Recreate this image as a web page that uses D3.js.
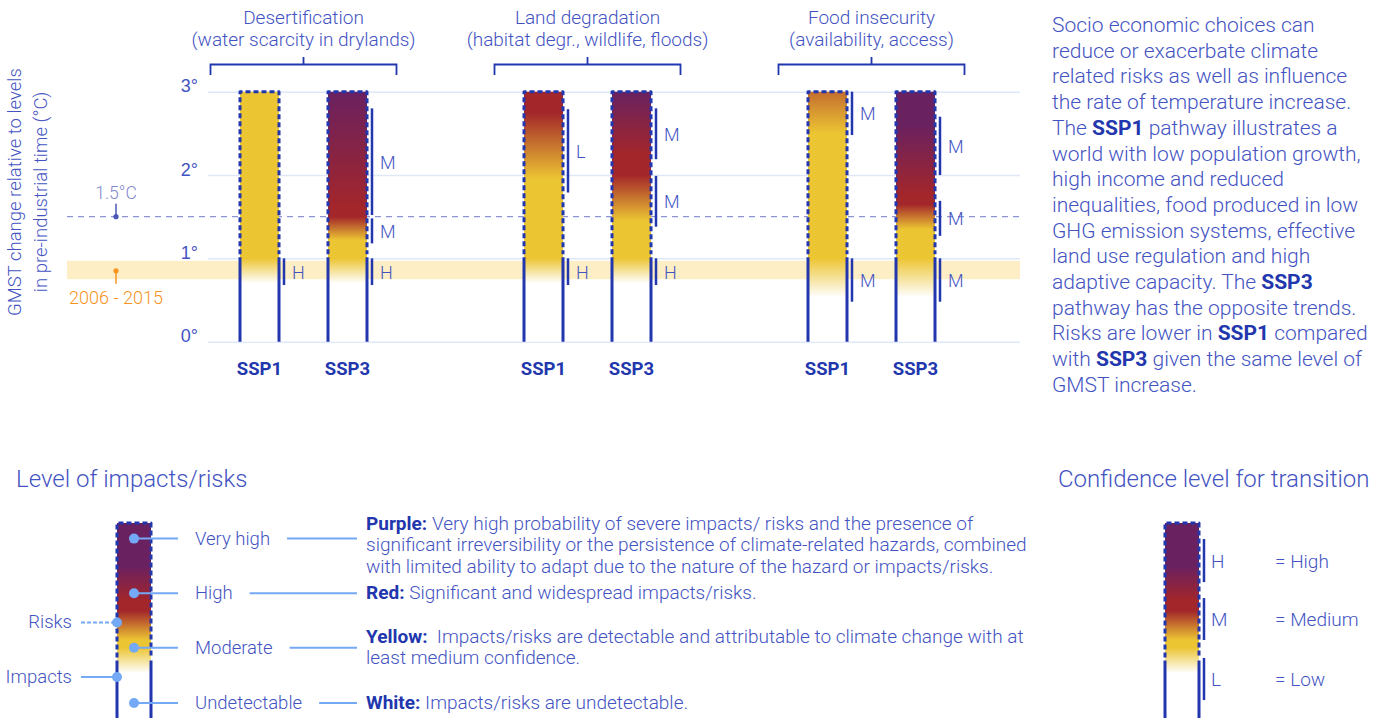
<!DOCTYPE html>
<html>
<head>
<meta charset="utf-8">
<script src="https://cdn.jsdelivr.net/npm/d3@7"></script>
<style>
  body { margin: 0; background: #fff; }
  svg { font-family: Roboto, "Noto Sans", sans-serif; }
  .light { font-weight: 300; }
</style>
</head>
<body>
<div id="container"></div>
<script>
/* CONSTANTS AND GLOBALS */
const width = 1389, height = 718;

const groups = ["Desertification", "Land degradation", "Food insecurity"];
const groupSubtitles = ["(water scarcity in drylands)", "(habitat degr., wildlife, floods)", "(availability, access)"];
const pathways = ["SSP1", "SSP3"];
const yTicks = [0, 1, 2, 3];
const riskLevels = ["Undetectable", "Moderate", "High", "Very high"];

// risk transitions along each bar: [GMST °C, risk level index]
const desertSSP1 = [[3, 1], [1, 1], [0.7, 0]];
const desertSSP3 = [[3, 3], [1.6, 2], [1.5, 2], [1.22, 1], [1, 1], [0.7, 0]];
const landSSP1 = [[3, 2], [2.75, 2], [1.95, 1], [1, 1], [0.7, 0]];
const landSSP3 = [[3, 3], [2.25, 2], [2.0, 2], [1.45, 1], [1, 1], [0.7, 0]];
const foodSSP1 = [[3, 1.55], [2.5, 1], [1, 1], [0.53, 0]];
const foodSSP3 = [[3, 3], [2.6, 3], [1.75, 2], [1.65, 2], [1.35, 1], [1, 1], [0.53, 0]];

// confidence brackets: [from °C, to °C, level]
const desertSSP1Conf = [[1.0, 0.68, "H"]];
const desertSSP3Conf = [[2.8, 1.52, "M"], [1.48, 1.18, "M"], [1.0, 0.68, "H"]];
const landSSP1Conf = [[2.79, 1.79, "L"], [1.0, 0.68, "H"]];
const landSSP3Conf = [[2.8, 2.19, "M"], [1.99, 1.38, "M"], [1.0, 0.68, "H"]];
const foodSSP1Conf = [[3.0, 2.48, "M"], [1.0, 0.48, "M"]];
const foodSSP3Conf = [[2.7, 2.0, "M"], [1.69, 1.27, "M"], [1.0, 0.48, "M"]];

const barTop = 3, barBottom = 0, risksFrom = 1.05;
const warming15 = 1.5;
const observedBand = [0.75, 0.97];

// legend bar: position as fraction of bar (0 = bottom, 1 = top)
const legendStops = [[1, 3], [0.78, 3], [0.6, 2], [0.55, 2], [0.4, 1], [0.36, 1], [0.23, 0]];
const legendDots = [["Very high", 0.92], ["High", 0.64], ["Moderate", 0.36], ["Undetectable", 0.077]];
const legendRisksAt = 0.49, legendImpactsAt = 0.21, legendDashFrom = 0.31;
const legendDescriptions = [
  [["Purple:", "Very high probability of severe impacts/ risks and the presence of"],
   [null, "significant irreversibility or the persistence of climate-related hazards, combined"],
   [null, "with limited ability to adapt due to the nature of the hazard or impacts/risks."]],
  [["Red:", "Significant and widespread impacts/risks."]],
  [["Yellow:", "\u00a0Impacts/risks are detectable and attributable to climate change with at"],
   [null, "least medium confidence."]],
  [["White:", "Impacts/risks are undetectable."]]
];
const confLegend = [[0.918, 0.697, "H", "= High"], [0.615, 0.4, "M", "= Medium"], [0.308, 0.092, "L", "= Low"]];

const paragraph = [
  "Socio economic choices can",
  "reduce or exacerbate climate",
  "related risks as well as influence",
  "the rate of temperature increase.",
  "The **SSP1** pathway illustrates a",
  "world with low population growth,",
  "high income and reduced",
  "inequalities, food produced in low",
  "GHG emission systems, effective",
  "land use regulation and high",
  "adaptive capacity. The **SSP3**",
  "pathway has the opposite trends.",
  "Risks are lower in **SSP1** compared",
  "with **SSP3** given the same level of",
  "GMST increase."
];

const barData = [
  { group: groups[0], path: "SSP1", stops: desertSSP1, conf: desertSSP1Conf },
  { group: groups[0], path: "SSP3", stops: desertSSP3, conf: desertSSP3Conf },
  { group: groups[1], path: "SSP1", stops: landSSP1, conf: landSSP1Conf },
  { group: groups[1], path: "SSP3", stops: landSSP3, conf: landSSP3Conf },
  { group: groups[2], path: "SSP1", stops: foodSSP1, conf: foodSSP1Conf },
  { group: groups[2], path: "SSP3", stops: foodSSP3, conf: foodSSP3Conf }
];

// colours
const textBlue = "#4353c2", darkBlue = "#2236ad", gridBlue = "#dfe8f7",
  lightBlue = "#74a9f5", orange = "#f7931e", bandFill = "#fdeec5";
const riskColor = d3.scaleLinear().domain([0, 1, 2, 3])
  .range(["#ffffff", "#ecc533", "#a3262a", "#6a2160"]);

/* SCALES */
const yScale = d3.scaleLinear().domain([0, 3]).range([341.7, 91.7]);
const xGroup = d3.scalePoint().domain(groups).range([303.5, 871.5]);
const xPath = d3.scalePoint().domain(pathways).range([-44, 44]);
const barW = 39;
const xBar = d => xGroup(d.group) + xPath(d.path);

const svg = d3.select("#container").append("svg")
  .attr("width", width).attr("height", height);
const defs = svg.append("defs");

/* BACKGROUND: band, grid, 1.5 line */
svg.append("rect")
  .attr("x", 67).attr("width", 1020 - 67)
  .attr("y", yScale(observedBand[1]))
  .attr("height", yScale(observedBand[0]) - yScale(observedBand[1]))
  .attr("fill", bandFill);

const yAxis = d3.axisLeft(yScale).tickValues(yTicks)
  .tickSize(-(1020 - 208)).tickFormat(d => d + "°");
const yAxisGroup = svg.append("g")
  .attr("transform", "translate(208,0)")
  .call(yAxis);
yAxisGroup.select(".domain").remove();
yAxisGroup.selectAll(".tick line").attr("stroke", gridBlue).attr("stroke-width", 1.5);
yAxisGroup.selectAll(".tick text")
  .attr("class", "light")
  .attr("x", -10).attr("dy", 0)
  .attr("fill", textBlue).attr("font-size", 18);

svg.append("line")
  .attr("x1", 67).attr("x2", 1020)
  .attr("y1", yScale(warming15)).attr("y2", yScale(warming15))
  .attr("stroke", "#8c95d2").attr("stroke-width", 1.2).attr("stroke-dasharray", "6,5");

// 1.5°C marker
svg.append("text").attr("class", "light")
  .attr("x", 116).attr("y", yScale(warming15) - 18)
  .attr("text-anchor", "middle").attr("font-size", 17.5).attr("fill", "#7f89cc")
  .text("1.5°C");
svg.append("line").attr("x1", 116).attr("x2", 116)
  .attr("y1", yScale(warming15) - 13).attr("y2", yScale(warming15))
  .attr("stroke", "#4a57b8").attr("stroke-width", 1.5);
svg.append("circle").attr("cx", 116).attr("cy", yScale(warming15)).attr("r", 2.6)
  .attr("fill", "#4a57b8");

// observed band marker
const bandMid = yScale(observedBand[1]) + 10;
svg.append("circle").attr("cx", 116).attr("cy", bandMid).attr("r", 2.6).attr("fill", orange);
svg.append("line").attr("x1", 116).attr("x2", 116)
  .attr("y1", bandMid).attr("y2", bandMid + 13)
  .attr("stroke", orange).attr("stroke-width", 1.5);
svg.append("text").attr("class", "light")
  .attr("x", 116).attr("y", bandMid + 33)
  .attr("text-anchor", "middle").attr("font-size", 18).attr("fill", orange)
  .text("2006 - 2015");

// y axis title
const yTitle = svg.append("text").attr("class", "light")
  .attr("transform", "translate(21,192) rotate(-90)")
  .attr("text-anchor", "middle").attr("font-size", 18.5).attr("fill", textBlue);
yTitle.append("tspan").attr("x", 0).attr("dy", 0).text("GMST change relative to levels");
yTitle.append("tspan").attr("x", 0).attr("dy", 26).text("in pre-industrial time (°C)");

/* GROUP TITLES AND BRACKETS */
const gTitles = svg.selectAll(".groupTitle").data(groups).join("g").attr("class", "groupTitle");
gTitles.append("text").attr("class", "light")
  .attr("x", d => xGroup(d)).attr("y", 24)
  .attr("text-anchor", "middle").attr("font-size", 19).attr("fill", textBlue)
  .text(d => d);
gTitles.append("text").attr("class", "light")
  .attr("x", d => xGroup(d)).attr("y", 46)
  .attr("text-anchor", "middle").attr("font-size", 19).attr("fill", textBlue)
  .text((d, i) => groupSubtitles[i]);
gTitles.append("path")
  .attr("d", d => {
    const c = xGroup(d);
    return `M${c - 93},75V64.5H${c + 93}V75M${c},64.5V57`;
  })
  .attr("fill", "none").attr("stroke", darkBlue).attr("stroke-width", 1.8);

/* BARS */
function addGradient(id, stops, scale, y1, y2) {
  const g = defs.append("linearGradient").attr("id", id)
    .attr("gradientUnits", "userSpaceOnUse")
    .attr("x1", 0).attr("x2", 0).attr("y1", y1).attr("y2", y2);
  stops.slice().sort((a, b) => scale(a[0]) - scale(b[0])).forEach(s => {
    g.append("stop")
      .attr("offset", (scale(s[0]) - y1) / (y2 - y1))
      .attr("stop-color", riskColor(s[1]));
  });
}

// draws gradient bar with dashed (risks) upper part and solid (impacts) lower part
function drawBar(sel, x, w, yTop, yDash, yBot, gradId) {
  sel.append("rect")
    .attr("x", x).attr("y", yTop).attr("width", w).attr("height", yBot - yTop)
    .attr("fill", `url(#${gradId})`);
  sel.append("path")
    .attr("d", `M${x},${yDash}V${yTop}H${x + w}V${yDash}`)
    .attr("fill", "none").attr("stroke", darkBlue).attr("stroke-width", 3)
    .attr("stroke-dasharray", "5,3").attr("stroke-linejoin", "round");
  sel.append("path")
    .attr("d", `M${x},${yDash + 3}V${yBot}M${x + w},${yDash + 3}V${yBot}`)
    .attr("fill", "none").attr("stroke", darkBlue).attr("stroke-width", 3);
}

barData.forEach((d, i) => {
  const id = "grad" + i;
  addGradient(id, d.stops, yScale, yScale(barTop), yScale(barBottom));
  const x0 = xBar(d) - barW / 2;
  const g = svg.append("g");
  drawBar(g, x0, barW, yScale(barTop), yScale(risksFrom), yScale(barBottom), id);

  // confidence brackets
  const cx = x0 + barW + 5;
  d.conf.forEach(c => {
    g.append("line").attr("x1", cx).attr("x2", cx)
      .attr("y1", yScale(c[0])).attr("y2", yScale(c[1]))
      .attr("stroke", darkBlue).attr("stroke-width", 2.5);
    g.append("text").attr("class", "light")
      .attr("x", cx + 8).attr("y", (yScale(c[0]) + yScale(c[1])) / 2 + 7)
      .attr("font-size", 18).attr("fill", textBlue).text(c[2]);
  });

  g.append("text")
    .attr("x", xBar(d)).attr("y", 375)
    .attr("text-anchor", "middle").attr("font-size", 18.5).attr("font-weight", 700)
    .attr("fill", darkBlue).text(d.path);
});

/* PARAGRAPH */
const para = svg.append("text").attr("class", "light")
  .attr("font-size", 21).attr("fill", textBlue);
paragraph.forEach((line, i) => {
  const t = para.append("tspan").attr("x", 1052).attr("y", 32 + i * 25.7);
  line.split("**").forEach((part, j) => {
    if (!part) return;
    const s = t.append("tspan").text(part);
    if (j % 2 === 1) s.attr("font-weight", 700).attr("fill", darkBlue);
  });
});

/* LEGEND: LEVEL OF IMPACTS/RISKS */
svg.append("text").attr("class", "light")
  .attr("x", 16).attr("y", 487).attr("font-size", 24).attr("fill", textBlue)
  .text("Level of impacts/risks");

const legY = d3.scaleLinear().domain([0, 1]).range([718, 523]);
addGradient("legGrad", legendStops, legY, legY(1), legY(0));
const leg = svg.append("g");
drawBar(leg, 117, 34, legY(1), legY(legendDashFrom), legY(0) + 2, "legGrad");

const dotX = 134;
legendDots.forEach((d, i) => {
  const y = legY(d[1]);
  leg.append("line").attr("x1", dotX).attr("x2", 178).attr("y1", y).attr("y2", y)
    .attr("stroke", lightBlue).attr("stroke-width", 2);
  leg.append("circle").attr("cx", dotX).attr("cy", y).attr("r", 5).attr("fill", lightBlue);
  const lbl = leg.append("text").attr("class", "light")
    .attr("x", 195).attr("y", y + 6).attr("font-size", 18.5).attr("fill", textBlue).text(d[0]);
  const end = 195 + lbl.node().getComputedTextLength();
  leg.append("line").attr("x1", end + 17).attr("x2", 357).attr("y1", y).attr("y2", y)
    .attr("stroke", lightBlue).attr("stroke-width", 2);
});

// risks / impacts pointers
[[legendRisksAt, "Risks", "4,2"], [legendImpactsAt, "Impacts", null]].forEach(r => {
  const y = legY(r[0]);
  leg.append("line").attr("x1", 81).attr("x2", 117).attr("y1", y).attr("y2", y)
    .attr("stroke", lightBlue).attr("stroke-width", 2)
    .attr("stroke-dasharray", r[2]);
  leg.append("circle").attr("cx", 117).attr("cy", y).attr("r", 5).attr("fill", lightBlue);
  leg.append("text").attr("class", "light")
    .attr("x", 72).attr("y", y + 6).attr("text-anchor", "end")
    .attr("font-size", 18.5).attr("fill", textBlue).text(r[1]);
});

// descriptions
const descY = [legY(legendDots[0][1]) - 15, legY(legendDots[1][1]), legY(legendDots[2][1]) - 11, legY(legendDots[3][1])];
legendDescriptions.forEach((block, i) => {
  block.forEach((line, j) => {
    const t = svg.append("text").attr("x", 366).attr("y", descY[i] + 6 + j * 21.5)
      .attr("font-size", 19).attr("fill", textBlue);
    if (line[0]) t.append("tspan").attr("font-weight", 700).attr("fill", darkBlue).text(line[0] + " ");
    t.append("tspan").attr("class", "light").text(line[1]);
  });
});

/* LEGEND: CONFIDENCE */
svg.append("text").attr("class", "light")
  .attr("x", 1058).attr("y", 487).attr("font-size", 24).attr("fill", textBlue)
  .text("Confidence level for transition");
const conf = svg.append("g");
drawBar(conf, 1165, 34, legY(1), legY(legendDashFrom), legY(0) + 2, "legGrad");
confLegend.forEach(c => {
  const y1 = legY(c[0]), y2 = legY(c[1]), ym = (y1 + y2) / 2;
  conf.append("line").attr("x1", 1204).attr("x2", 1204).attr("y1", y1).attr("y2", y2)
    .attr("stroke", darkBlue).attr("stroke-width", 2.5);
  conf.append("text").attr("class", "light").attr("x", 1211).attr("y", ym + 7)
    .attr("font-size", 19).attr("fill", textBlue).text(c[2]);
  conf.append("text").attr("class", "light").attr("x", 1275).attr("y", ym + 7)
    .attr("font-size", 19).attr("fill", textBlue).text(c[3]);
});
</script>
</body>
</html>
